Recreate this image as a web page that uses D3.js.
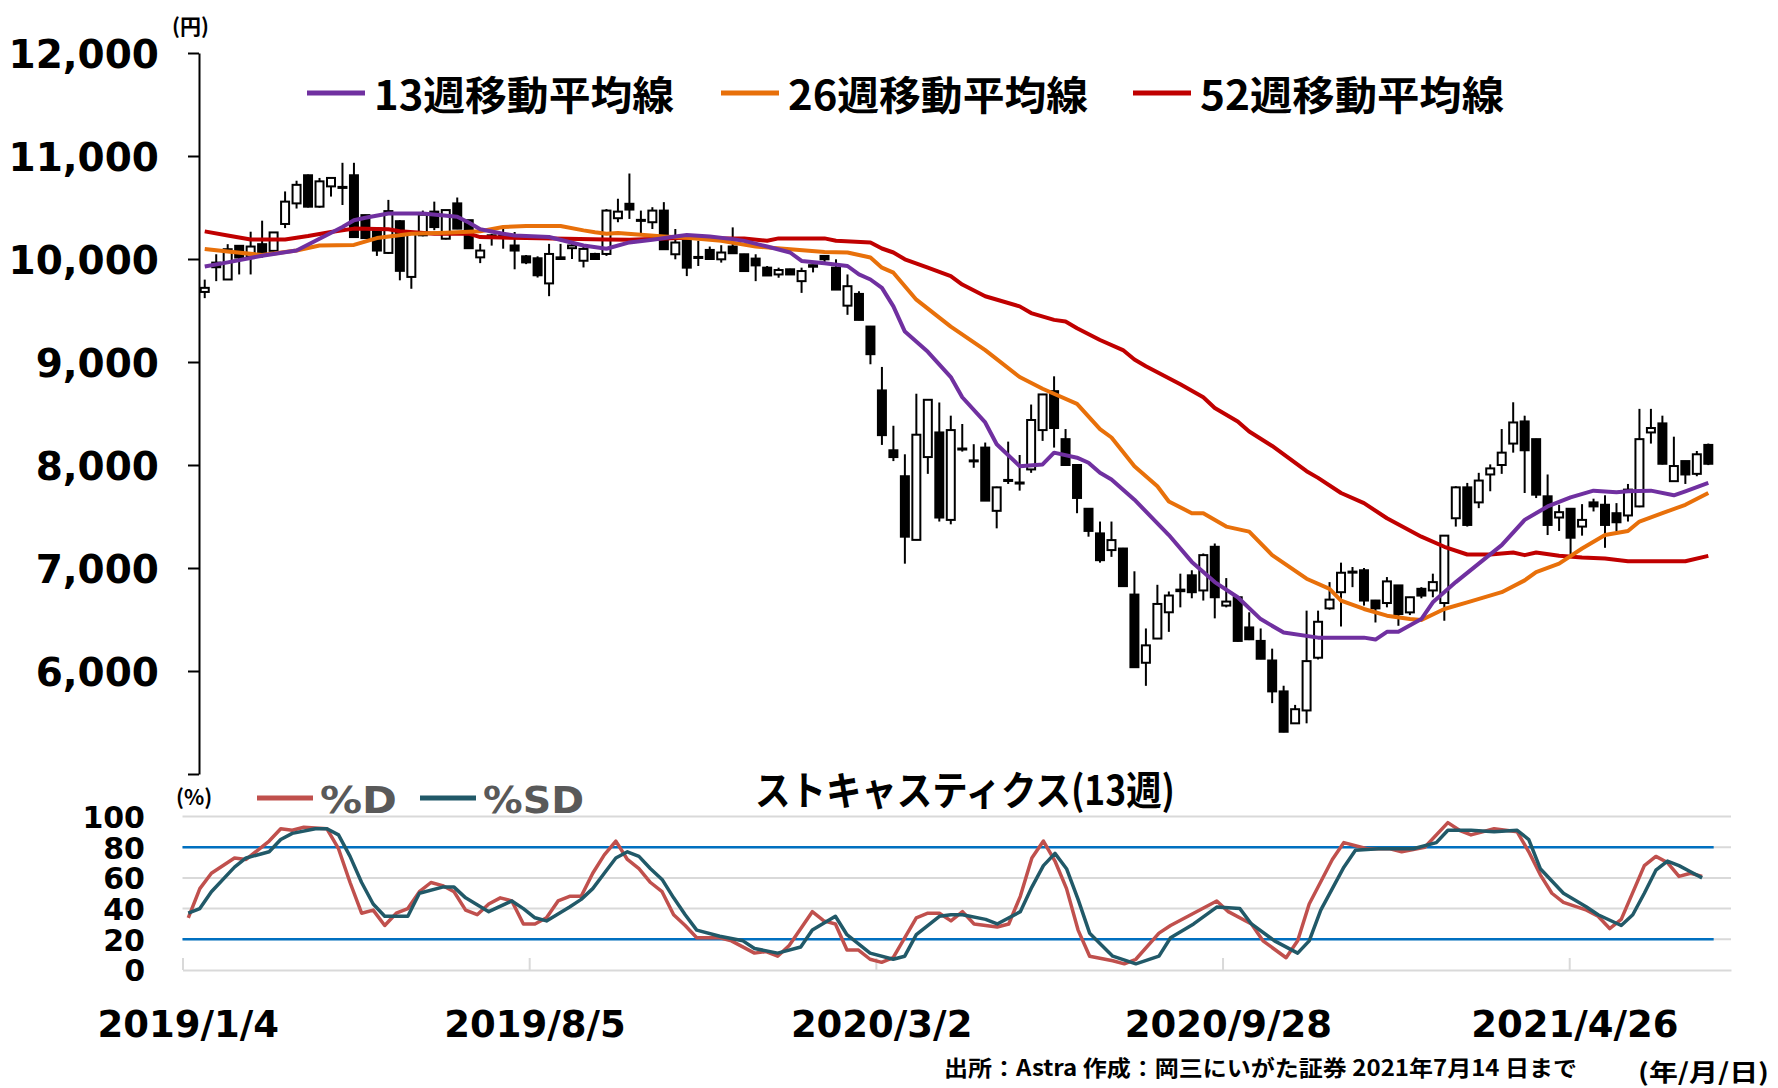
<!DOCTYPE html>
<html>
<head>
<meta charset="utf-8">
<script src="https://cdn.jsdelivr.net/npm/d3@7"></script>
<style>
  body { margin: 0; background: #fff; }
  .jp { font-family: "Noto Sans CJK JP", sans-serif; font-weight: bold; }
  .num { font-family: "DejaVu Sans", sans-serif; font-weight: bold; }
</style>
</head>
<body>
<svg id="chart" width="1778" height="1088"></svg>
<script>
// weekly candles, 2019/1/4 .. 2021/7/14
var openP  = [9680,9965,9801,10128,10023,10144,10079,10340,10540,10813,10508,10705,10700,10813,10426,10295,10059,10367,9826,10230,
              10460,10197,10540,10377,10016,10230,10230,10131,10026,10007,9763,10016,10105,9983,10049,10049,10396,10536,10380,10357,
              10470,10046,10177,10020,10088,9997,10121,10046,10004,9916,9850,9900,9785,9940,10030,9916,9547,9661,9344,8724,
              8143,7891,7273,8077,8316,7467,8160,8045,8169,7555,7855,7830,7957,8339,8717,8251,8000,7575,7336,7174,
              7189,6742,6080,6315,6570,6790,6929,6782,7206,6635,6716,6423,6292,6102,5802,5492,5617,6129,6608,6765,
              6965,6978,6684,6660,6831,6569,6798,6782,6660,7483,7783,7637,7908,8000,8208,8423,8251,7696,7490,7575,
              7402,7637,7614,7532,7510,7598,8316,8404,7843,8038,7914,8195];
var highP  = [9800,10046,10144,10135,10265,10372,10260,10656,10760,10820,10787,10787,10934,10934,10430,10295,10574,10377,10262,10470,
              10557,10475,10597,10377,10147,10245,10295,10262,10039,10026,10147,10147,10147,10131,10060,10485,10585,10830,10470,10503,
              10552,10291,10180,10177,10121,10134,10307,10050,10046,9932,9916,9905,9916,9945,10035,9997,9850,9687,9350,8952,
              8381,8104,8692,8640,8607,8479,8398,8202,8218,7790,8227,8097,8587,8690,8861,8349,8005,7580,7451,7451,
              7195,6968,6413,6837,6772,6945,6978,7141,7238,6902,6720,6570,6413,6217,5857,5671,6586,6586,6863,7052,
              7010,7000,6690,6912,6835,6720,6814,6945,7320,7794,7826,7924,8006,8349,8609,8479,8255,7908,7614,7580,
              7620,7673,7706,7630,7816,8545,8545,8479,8275,8040,8136,8208];
var lowP   = [9620,9785,9800,9850,9850,10014,10060,10300,10490,10500,10498,10606,10524,10210,10200,10030,10050,9793,9711,10220,
              10280,10190,10290,10100,9960,10130,10100,9900,9950,9820,9639,9990,10000,9918,9990,10030,10357,10389,10242,10291,
              10090,9997,9834,9932,9995,9965,10056,9880,9785,9836,9818,9845,9671,9870,9965,9700,9458,9405,8978,8195,
              8038,7042,7270,7914,7451,7424,8130,7973,7654,7385,7816,7751,7924,8234,8169,7995,7532,7304,7052,7108,
              6820,6030,5856,6310,6380,6618,6706,6684,6511,6618,6285,6300,6115,5688,5405,5490,5492,6112,6595,6432,
              6814,6635,6471,6618,6439,6543,6706,6716,6488,7402,7402,7581,7745,7914,8120,7728,7679,7320,7359,7131,
              7314,7549,7196,7359,7451,7590,8208,8005,7840,7816,7891,7999];
var closeP = [9720,9920,10095,10014,10121,10063,10258,10557,10720,10508,10754,10787,10690,10213,10203,10082,10465,9885,10262,10430,
              10310,10475,10295,10105,10082,10213,10220,10082,9967,9842,10049,10000,10131,10098,10000,10470,10460,10480,10370,10470,
              10095,10160,9916,10010,10000,10063,10056,9883,9938,9840,9893,9850,9883,9925,9997,9703,9736,9409,9076,8290,
              8077,7304,8294,8633,7490,8339,8150,8035,7654,7783,7845,7820,8437,8685,8359,8000,7680,7360,7076,7271,
              6824,6037,6249,6651,6733,6775,6765,7125,6716,6674,6292,6308,6119,5802,5410,5629,6096,6478,6693,6954,
              6955,6684,6608,6870,6553,6716,6732,6863,7314,7783,7418,7849,7967,8120,8413,8143,7712,7418,7542,7294,
              7467,7598,7418,7444,7761,8251,8359,8012,7990,7908,8104,8012];

// moving averages: [week, yen]
var ma13 = [[0,9927],[2,9967],[5,10032],[8,10082],[10,10196],[12,10311],[13,10377],[14,10400],[16,10442],[19,10442],
            [22,10410],[23,10354],[24,10288],[26,10246],[27,10229],[30,10213],[33,10131],[35,10100],[37,10161],[39,10186],
            [41,10219],[42,10232],[44,10219],[46,10193],[47,10176],[49,10121],[51,10063],[52,9981],[54,9958],[56,9932],
            [57,9850],[58,9801],[59,9720],[60,9540],[61,9295],[63,9099],[65,8854],[66,8658],[68,8413],[69,8202],
            [71,7989],[73,8006],[74,8120],[76,8071],[77,8022],[78,7924],[79,7859],[81,7663],[84,7320],[86,7059],
            [88,6863],[90,6716],[92,6504],[94,6373],[97,6324],[99,6324],[101,6324],[102,6305],[103,6380],[104,6380],
            [106,6504],[107,6667],[109,6863],[111,7042],[113,7222],[115,7467],[117,7598],[119,7686],[121,7751],[123,7735],
            [124,7745],[126,7751],[128,7706],[129,7745],[131,7826]];
var ma26 = [[0,10098],[2,10072],[5,10039],[8,10082],[10,10131],[13,10137],[15,10203],[18,10246],[21,10255],[24,10269],
            [26,10311],[28,10321],[31,10321],[33,10278],[34,10260],[35,10246],[36,10252],[40,10219],[42,10206],[45,10176],
            [48,10121],[51,10095],[54,10069],[56,10063],[58,10014],[59,9916],[60,9867],[62,9605],[65,9344],[68,9116],
            [71,8854],[73,8740],[76,8594],[78,8349],[79,8267],[81,7989],[83,7793],[84,7646],[86,7532],[87,7532],
            [89,7402],[91,7353],[93,7125],[96,6896],[98,6798],[99,6684],[101,6602],[103,6537],[105,6504],[106,6495],
            [108,6602],[110,6667],[113,6765],[115,6880],[116,6961],[118,7042],[120,7189],[122,7320],[124,7359],[125,7451],
            [127,7532],[129,7614],[131,7728]];
var ma52 = [[0,10268],[2,10229],[4,10190],[7,10190],[9,10223],[11,10262],[13,10295],[16,10288],[17,10269],[20,10246],
            [23,10246],[24,10213],[28,10203],[35,10190],[37,10186],[40,10200],[42,10206],[45,10200],[47,10200],[49,10177],
            [50,10200],[54,10200],[55,10177],[58,10160],[59,10102],[60,10063],[61,9997],[63,9916],[65,9834],[66,9752],
            [68,9638],[71,9540],[72,9475],[74,9409],[75,9393],[76,9328],[78,9214],[80,9116],[81,9024],[82,8959],
            [85,8783],[87,8658],[88,8554],[90,8423],[91,8325],[93,8185],[96,7940],[97,7875],[99,7728],[101,7630],
            [103,7483],[106,7304],[108,7206],[110,7131],[112,7131],[114,7150],[115,7125],[116,7150],[118,7118],[120,7101],
            [122,7092],[124,7066],[129,7066],[131,7118]];

// stochastics (13 weeks): [week, %]
var stochD  = [[0,34],[1,53],[2,63],[4,73],[5,72],[7,84],[8,92],[9,91],[10,93],[12,92],[13,79],[14,57],[15,37],[16,39],
               [17,29],[18,37],[19,40],[20,51],[21,57],[22,55],[23,51],[24,39],[25,36],[26,43],[27,47],[28,45],[29,30],[30,30],
               [31,34],[32,45],[33,48],[34,48],[35,63],[36,75],[37,84],[38,72],[39,66],[40,57],[41,51],[42,36],[43,29],[44,21],
               [46,21],[47,19],[49,11],[50,12],[51,9],[52,16],[54,38],[55,32],[56,30],[57,13],[58,13],[59,7],[60,5],[61,8],
               [63,34],[64,37],[65,37],[66,32],[67,38],[68,30],[69,29],[70,28],[71,30],[72,48],[73,73],[74,84],[75,71],[76,53],
               [77,26],[78,9],[80,6],[81,4],[82,7],[84,24],[85,29],[87,37],[89,45],[90,38],[92,30],[93,19],[95,8],[96,19],
               [97,43],[99,72],[100,83],[102,79],[104,79],[105,77],[107,80],[109,96],[110,91],[111,88],[113,92],[115,90],
               [116,77],[117,62],[118,50],[119,44],[121,39],[122,35],[123,27],[124,33],[126,68],[127,74],[128,70],[129,61],
               [130,63],[131,61]];
var stochSD = [[0,37],[1,40],[2,51],[4,67],[5,73],[7,77],[8,85],[9,89],[11,92],[12,92],[13,88],[14,74],[15,57],[16,43],
               [17,35],[19,35],[20,50],[22,54],[23,54],[24,47],[26,38],[28,45],[29,40],[30,34],[31,32],[33,41],[34,46],[35,53],
               [36,63],[37,73],[38,77],[39,74],[40,66],[41,59],[42,47],[43,36],[44,26],[46,22],[48,19],[49,14],[51,11],[53,15],
               [54,26],[56,35],[57,23],[59,11],[61,7],[62,9],[63,23],[65,35],[66,36],[67,36],[69,33],[70,30],[72,38],[73,54],
               [74,68],[75,76],[76,66],[77,46],[78,24],[80,9],[82,4],[84,9],[85,21],[87,30],[89,41],[91,40],[92,30],[94,19],
               [96,11],[97,19],[98,39],[100,67],[101,78],[103,79],[104,79],[106,79],[108,83],[109,91],[111,91],[113,90],[115,91],
               [116,85],[117,66],[119,50],[121,41],[122,36],[124,29],[125,36],[126,50],[127,65],[128,71],[129,68],[130,64],
               [131,60]];
var stochBands = [80, 20];
var stochGrid = [20, 40, 60, 80, 100];

var dateLabels = ["2019/1/4", "2019/8/5", "2020/3/2", "2020/9/28", "2021/4/26"];
var dateWeeks  = [0, 30, 60, 90, 120];

var svg = d3.select("#chart");

// main price panel
var x = d3.scaleLinear().domain([-0.5, 133.5]).range([199, 1737]);
var y = d3.scaleLinear().domain([5000, 12000]).range([774, 53]);

var yAxis = d3.axisLeft(y)
    .tickValues(d3.range(5000, 12001, 1000))
    .tickSize(11).tickSizeOuter(0).tickPadding(29)
    .tickFormat(d3.format(","));
var ga = svg.append("g").attr("transform", "translate(199,0)").call(yAxis);
ga.select(".domain").attr("stroke", "#000").attr("stroke-width", 2);
ga.selectAll(".tick line").attr("stroke", "#000").attr("stroke-width", 2);
ga.selectAll(".tick text").attr("class", "num").style("font-size", "39px")
  .attr("fill", "#000").attr("dy", "0.36em");
ga.selectAll(".tick").filter(function(d) { return d === 5000; }).select("text").remove();

svg.append("text").attr("class", "jp").attr("x", 172).attr("y", 34)
   .style("font-size", "21px").text("(円)");

// candles
var candles = closeP.map(function(c, i) {
  return { i: i, o: openP[i], h: highP[i], l: lowP[i], c: c };
});
var cg = svg.append("g");
cg.selectAll("line").data(candles).enter().append("line")
  .attr("x1", function(d) { return x(d.i); })
  .attr("x2", function(d) { return x(d.i); })
  .attr("y1", function(d) { return y(d.h); })
  .attr("y2", function(d) { return y(d.l); })
  .attr("stroke", "#000").attr("stroke-width", 2);
cg.selectAll("rect").data(candles).enter().append("rect")
  .attr("x", function(d) { return x(d.i) - 4; })
  .attr("width", 8)
  .attr("y", function(d) { return y(Math.max(d.o, d.c)); })
  .attr("height", function(d) { return Math.max(1, Math.abs(y(d.o) - y(d.c))); })
  .attr("fill", function(d) { return d.c >= d.o ? "#fff" : "#000"; })
  .attr("stroke", "#000").attr("stroke-width", 2);

// moving averages
var maLine = d3.line().x(function(d) { return x(d[0]); }).y(function(d) { return y(d[1]); });
var maSeries = [
  { name: "13週移動平均線", data: ma13, color: "#7030A0" },
  { name: "26週移動平均線", data: ma26, color: "#E8700A" },
  { name: "52週移動平均線", data: ma52, color: "#C00000" }
];
// draw 52 first so 13 sits on top
maSeries.slice().reverse().forEach(function(s) {
  svg.append("path").attr("d", maLine(s.data)).attr("fill", "none")
     .attr("stroke", s.color).attr("stroke-width", 4).attr("stroke-linejoin", "round");
});

// legend
var legX = [307, 721, 1133];
var legW = [300, 300, 304];
maSeries.forEach(function(s, k) {
  svg.append("line").attr("x1", legX[k]).attr("x2", legX[k] + 58).attr("y1", 93).attr("y2", 93)
     .attr("stroke", s.color).attr("stroke-width", 5);
  svg.append("text").attr("class", "jp").attr("x", legX[k] + 67).attr("y", 93)
     .attr("dominant-baseline", "central").style("font-size", "40px")
     .attr("textLength", legW[k]).attr("lengthAdjust", "spacingAndGlyphs").text(s.name);
});

// stochastics panel
var xs = d3.scaleLinear().domain([-0.5, 133.5]).range([182.5, 1731]);
var ys = d3.scaleLinear().domain([0, 100]).range([970, 816.5]);

svg.append("g").selectAll("line").data(stochGrid).enter().append("line")
  .attr("x1", xs(-0.5)).attr("x2", xs(133.5))
  .attr("y1", function(d) { return ys(d); }).attr("y2", function(d) { return ys(d); })
  .attr("stroke", "#D9D9D9").attr("stroke-width", 2);

var xsAxis = d3.axisBottom(xs)
    .tickValues(dateWeeks.map(function(w) { return w - 0.5; }))
    .tickSize(-12).tickSizeOuter(0).tickFormat("");
var gx = svg.append("g").attr("transform", "translate(0," + ys(0) + ")").call(xsAxis);
gx.select(".domain").attr("stroke", "#D9D9D9").attr("stroke-width", 2);
gx.selectAll(".tick line").attr("stroke", "#D9D9D9").attr("stroke-width", 2);

svg.append("g").selectAll("line").data(stochBands).enter().append("line")
  .attr("x1", xs(-0.5)).attr("x2", xs(132))
  .attr("y1", function(d) { return ys(d); }).attr("y2", function(d) { return ys(d); })
  .attr("stroke", "#0070C0").attr("stroke-width", 2.5);

var ysAxis = d3.axisLeft(ys).tickValues([0, 20, 40, 60, 80, 100]).tickSize(0).tickPadding(0);
var gy = svg.append("g").attr("transform", "translate(145,0)").call(ysAxis);
gy.select(".domain").remove();
gy.selectAll(".tick text").attr("class", "num").style("font-size", "30px")
  .attr("fill", "#000").attr("dy", "0.36em");

var stLine = d3.line().x(function(d) { return xs(d[0]); }).y(function(d) { return ys(d[1]); });
svg.append("path").attr("d", stLine(stochD)).attr("fill", "none")
   .attr("stroke", "#C0504D").attr("stroke-width", 3.5).attr("stroke-linejoin", "round");
svg.append("path").attr("d", stLine(stochSD)).attr("fill", "none")
   .attr("stroke", "#215968").attr("stroke-width", 3.5).attr("stroke-linejoin", "round");

// date labels
svg.append("g").selectAll("text").data(dateWeeks).enter().append("text")
  .attr("class", "num").attr("x", function(d) { return xs(d); }).attr("y", 1037)
  .attr("text-anchor", "middle").style("font-size", "37px")
  .text(function(d, i) { return dateLabels[i]; });

// stochastics titles and legend
svg.append("text").attr("class", "jp").attr("x", 755).attr("y", 788)
   .attr("dominant-baseline", "central").style("font-size", "40px")
   .attr("textLength", 420).attr("lengthAdjust", "spacingAndGlyphs").text("ストキャスティクス(13週)");
svg.append("text").attr("class", "jp").attr("x", 176).attr("y", 796)
   .attr("dominant-baseline", "central").style("font-size", "21px").text("(%)");

var stLeg = [
  { label: "%D", color: "#C0504D", x: 257, w: 77 },
  { label: "%SD", color: "#215968", x: 420, w: 101 }
];
stLeg.forEach(function(s) {
  svg.append("line").attr("x1", s.x).attr("x2", s.x + 56).attr("y1", 798).attr("y2", 798)
     .attr("stroke", s.color).attr("stroke-width", 5);
  svg.append("text").attr("class", "num").attr("x", s.x + 63).attr("y", 813)
     .style("font-size", "38px").attr("fill", "#595959")
     .attr("textLength", s.w).attr("lengthAdjust", "spacingAndGlyphs").text(s.label);
});

// source note
svg.append("text").attr("class", "jp").attr("x", 944).attr("y", 1066)
   .attr("dominant-baseline", "central").style("font-size", "22px")
   .attr("textLength", 633).attr("lengthAdjust", "spacingAndGlyphs")
   .text("出所：Astra 作成：岡三にいがた証券 2021年7月14 日まで");
svg.append("text").attr("class", "jp").attr("x", 1638).attr("y", 1070)
   .attr("dominant-baseline", "central").style("font-size", "24px")
   .attr("textLength", 131).attr("lengthAdjust", "spacingAndGlyphs").text("(年/月/日)");
</script>
</body>
</html>
